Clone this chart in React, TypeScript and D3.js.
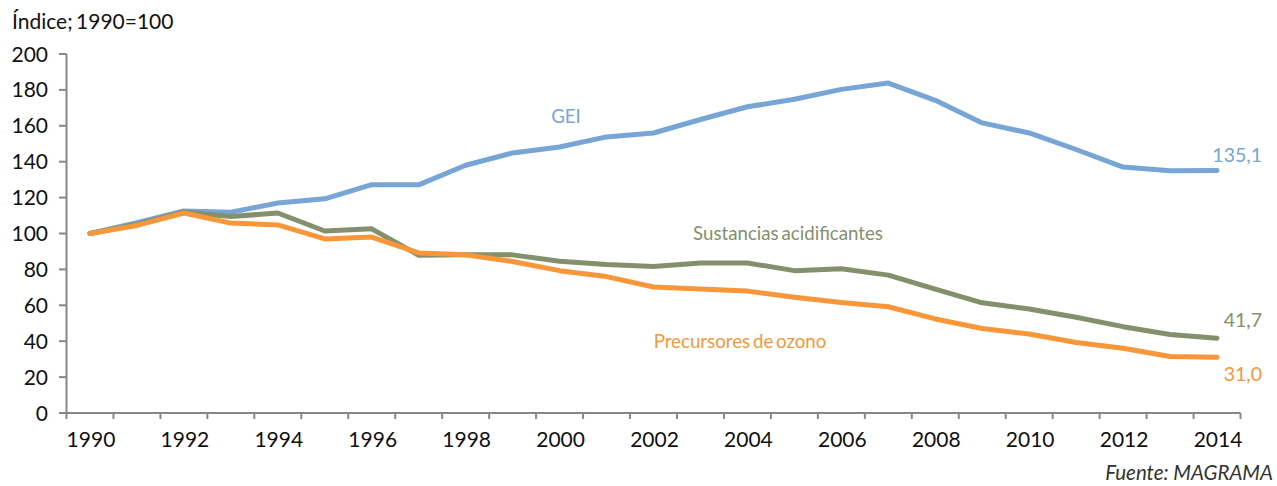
import React, { useEffect, useRef } from "react";
import * as d3 from "d3";

const years = [
  1990, 1991, 1992, 1993, 1994, 1995, 1996, 1997, 1998, 1999, 2000, 2001, 2002,
  2003, 2004, 2005, 2006, 2007, 2008, 2009, 2010, 2011, 2012, 2013, 2014,
];
const gei = [
  100, 106.0, 112.6, 111.8, 117.0, 119.3, 127.2, 127.1, 138.0, 144.9, 148.2,
  153.8, 156.0, 163.5, 170.6, 174.8, 180.3, 183.8, 174.2, 161.6, 156.0, 146.8,
  137.0, 134.9, 135.1,
];
const acid = [
  100, 105.0, 112.0, 109.5, 111.4, 101.4, 102.6, 87.9, 88.1, 88.1, 84.5, 82.7,
  81.6, 83.6, 83.6, 79.3, 80.4, 76.8, 69.0, 61.4, 57.9, 53.3, 48.1, 43.7, 41.7,
];
const ozono = [
  100, 104.5, 111.4, 105.8, 104.8, 97.0, 98.0, 89.2, 88.1, 84.4, 79.3, 76.0,
  70.2, 69.1, 67.9, 64.5, 61.5, 59.2, 52.4, 47.1, 44.0, 39.3, 36.1, 31.5, 31.0,
];
const yTicks = [0, 20, 40, 60, 80, 100, 120, 140, 160, 180, 200];
const xLabelYears = [1990, 1992, 1994, 1996, 1998, 2000, 2002, 2004, 2006, 2008, 2010, 2012, 2014];

const series = [
  { name: "GEI", values: gei, color: "#76A5D6", label: "GEI", lx: 566, ly: 123, end: "135,1", ey: 162 },
  { name: "acid", values: acid, color: "#84906B", label: "Sustancias acidificantes", lx: 788, ly: 240, end: "41,7", ey: 327 },
  { name: "ozono", values: ozono, color: "#F8963A", label: "Precursores de ozono", lx: 740, ly: 348, end: "31,0", ey: 381 },
];

export default function App() {
  const ref = useRef<SVGSVGElement | null>(null);

  useEffect(() => {
    const svg = d3.select(ref.current);
    svg.selectAll("*").remove();
    const W = 1277, H = 486;
    const x = d3.scaleBand<number>().domain(years).range([66.5, 1240.5]).paddingInner(0).paddingOuter(0);
    const y = d3.scaleLinear().domain([0, 200]).range([413, 54]);
    const font = "Lato, 'Open Sans', sans-serif";
    const axisColor = "#878787";
    const cx = (yr: number) => (x(yr) as number) + x.bandwidth() / 2;

    // Y axis line
    svg.append("line").attr("x1", 66.5).attr("x2", 66.5).attr("y1", y(200)).attr("y2", y(0))
      .attr("stroke", axisColor).attr("stroke-width", 2);
    // Y ticks
    const yt = svg.append("g");
    yTicks.forEach((t) => {
      yt.append("line").attr("x1", 59).attr("x2", 66.5).attr("y1", y(t)).attr("y2", y(t))
        .attr("stroke", axisColor).attr("stroke-width", 2);
      yt.append("text").attr("x", 48).attr("y", y(t)).attr("dy", "0.36em")
        .attr("text-anchor", "end").attr("font-family", font).attr("font-size", 21)
        .attr("fill", "#111").text(String(t));
    });
    // X axis line
    svg.append("line").attr("x1", 59).attr("x2", 1240.5).attr("y1", y(0)).attr("y2", y(0))
      .attr("stroke", axisColor).attr("stroke-width", 2);
    // X ticks at band boundaries
    const bounds = years.map((yr) => x(yr) as number).concat([(x(years[years.length - 1]) as number) + x.bandwidth()]);
    bounds.forEach((b, i) => {
      if (i === 0) return;
      svg.append("line").attr("x1", b).attr("x2", b).attr("y1", y(0)).attr("y2", y(0) + 6)
        .attr("stroke", axisColor).attr("stroke-width", 2);
    });
    svg.append("line").attr("x1", 66.5).attr("x2", 66.5).attr("y1", y(0)).attr("y2", y(0) + 6)
      .attr("stroke", axisColor).attr("stroke-width", 2);
    xLabelYears.forEach((yr) => {
      svg.append("text").attr("x", cx(yr) + 1).attr("y", 447).attr("text-anchor", "middle")
        .attr("font-family", font).attr("font-size", 21).attr("fill", "#111").text(String(yr));
    });

    // Lines
    const line = d3.line<number>().x((_, i) => cx(years[i])).y((v) => y(v));
    series.forEach((s) => {
      svg.append("path").attr("d", line(s.values) as string).attr("fill", "none")
        .attr("stroke", s.color).attr("stroke-width", 5).attr("stroke-linejoin", "round")
        .attr("stroke-linecap", "round");
    });
    series.forEach((s) => {
      svg.append("text").attr("x", s.lx).attr("y", s.ly).attr("text-anchor", "middle")
        .attr("font-family", font).attr("font-size", 18.7).attr("word-spacing", -2)
        .attr("fill", s.color).text(s.label);
      svg.append("text").attr("x", 1262).attr("y", s.ey).attr("text-anchor", "end")
        .attr("font-family", font).attr("font-size", 19.5).attr("fill", s.color).text(s.end);
    });

    // Titles
    svg.append("text").attr("x", 12).attr("y", 29).attr("font-family", font).attr("font-size", 21)
      .attr("word-spacing", -2).attr("fill", "#111").text("Índice; 1990=100");
    svg.append("text").attr("x", 1273).attr("y", 480).attr("text-anchor", "end")
      .attr("font-family", font).attr("font-size", 20.5).attr("font-style", "italic")
      .attr("fill", "#333").text("Fuente: MAGRAMA");
    svg.attr("width", W).attr("height", H);
  }, []);

  return (
    <svg ref={ref} width={1277} height={486}
      style={{ position: "absolute", left: 0, top: 0, background: "#fff" }} />
  );
}
